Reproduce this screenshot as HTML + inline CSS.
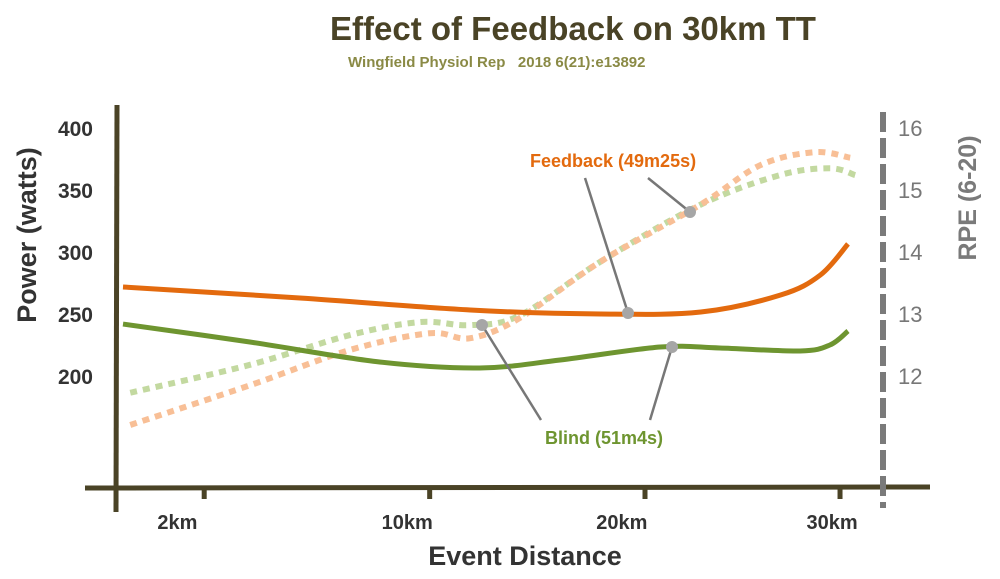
<!DOCTYPE html>
<html><head><meta charset="utf-8"><style>
body{margin:0;background:#fff;width:1000px;height:574px;overflow:hidden;font-family:"Liberation Sans",sans-serif}
svg text{font-family:"Liberation Sans",sans-serif}
</style></head><body>
<svg id="chart" width="1000" height="574" viewBox="0 0 1000 574">
<text x="573" y="40" text-anchor="middle" font-size="33" font-weight="bold" fill="#4a4326">Effect of Feedback on 30km TT</text>
<text x="348" y="67" font-size="15" font-weight="bold" fill="#8a8a45" xml:space="preserve">Wingfield Physiol Rep   2018 6(21):e13892</text>
<g id="axes"></g>
<g id="series"></g>
<g id="annot"></g>
<text transform="translate(36,235) rotate(-90)" text-anchor="middle" font-size="27" font-weight="bold" fill="#333">Power (watts)</text>
<text transform="translate(976,198) rotate(-90)" text-anchor="middle" font-size="25" font-weight="bold" fill="#7a7a7a">RPE (6-20)</text>
<text x="525" y="565" text-anchor="middle" font-size="27" font-weight="bold" fill="#333">Event Distance</text>
</svg>
<script>
const powerTicks=[200,250,300,350,400];
const rpeTicks=[12,13,14,15,16];
const xTickLabels=["2km","10km","20km","30km"];
const xTickLabelPos=[7.5,39.2,68.8,97.8];
const xTickMarks=[11.2,42.3,72.0,98.9];
const fbT=[0,24.4,47.9,65.9,79.7,90.7,96.2,100];
const fbPower=[271.8,262.9,253.2,250,251.6,265.3,281.5,306.5];
const blT=[0,17.5,35.4,49.2,60.3,74.1,82.3,93.4,97.5,100];
const blPower=[241.9,227.4,211.3,206.5,212.9,223.4,222.6,220.2,225,236.3];
const rpeT=[1,17.5,31.3,41,47.9,54.8,65.8,79.6,90.6,97.5,101];
const blRpe=[11.73,12.18,12.66,12.87,12.82,12.98,13.84,14.76,15.24,15.35,15.24];
const rpeT2=[1,17.5,31.3,42.3,47.9,54.8,65.8,79.6,87.9,95.4,100.3];
const fbRpe=[11.21,11.85,12.42,12.69,12.61,12.94,13.84,14.76,15.40,15.61,15.52];

const X=t=>123+t*7.25;
const YP=w=>376-(w-200)*1.24;
const YR=r=>376-(r-12)*62;
const NS="http://www.w3.org/2000/svg";
function mk(tag,attrs,parent,txt){const e=document.createElementNS(NS,tag);for(const k in attrs)e.setAttribute(k,attrs[k]);if(txt!==undefined)e.textContent=txt;parent.appendChild(e);return e;}
function smooth(pts){let d="M"+pts[0][0]+","+pts[0][1];for(let i=0;i<pts.length-1;i++){const p0=pts[i-1]||pts[i],p1=pts[i],p2=pts[i+1],p3=pts[i+2]||p2;
const c1=[p1[0]+(p2[0]-p0[0])/6,p1[1]+(p2[1]-p0[1])/6],c2=[p2[0]-(p3[0]-p1[0])/6,p2[1]-(p3[1]-p1[1])/6];
d+=" C"+c1[0]+","+c1[1]+" "+c2[0]+","+c2[1]+" "+p2[0]+","+p2[1];}return d;}
const axes=document.getElementById('axes');
const ax=mk('line',{x1:117,y1:105,x2:116,y2:512,stroke:'#4a4326','stroke-width':5},axes);


const bx=mk('line',{x1:85,y1:488,x2:930,y2:487,stroke:'#4a4326','stroke-width':5},axes);


const rx=mk('line',{x1:883,y1:112,x2:883,y2:508,stroke:'#7a7a7a','stroke-width':6,'stroke-dasharray':'20,6'},axes);


powerTicks.forEach(v=>{const t=mk('text',{x:93,y:YP(v)+8,'text-anchor':'end','font-size':21,'font-weight':'bold',fill:'#333'},axes,String(v));

});
rpeTicks.forEach(v=>{const t=mk('text',{x:898,y:YR(v)+8,'font-size':22,fill:'#777'},axes,String(v));

});
xTickMarks.forEach(v=>{const t=mk('line',{x1:X(v),y1:487,x2:X(v),y2:499,stroke:'#4a4326','stroke-width':5},axes);

});
xTickLabels.forEach((s,i)=>{const t=mk('text',{x:X(xTickLabelPos[i]),y:529,'text-anchor':'middle','font-size':20,'font-weight':'bold',fill:'#333'},axes,s);

});
const ser=document.getElementById('series');
function line(ts,vs,yf,col,dash,name){const p=mk('path',{d:smooth(ts.map((t,i)=>[X(t),yf(vs[i])])),fill:'none',stroke:col,'stroke-width':dash?6:5,'stroke-dasharray':dash||'none'},ser);

}
line(rpeT,blRpe,YR,'#c3d9a0','7,6','blind-rpe-line');
line(rpeT2,fbRpe,YR,'#f8bf96','7,6','feedback-rpe-line');
line(fbT,fbPower,YP,'#e36a0e',null,'feedback-power-line');
line(blT,blPower,YP,'#6e9530',null,'blind-power-line');
const an=document.getElementById('annot');
[[585,178,628,313],[648,178,690,212],[541,420,482,325],[650,420,672,347]].forEach(a=>{
const l=mk('line',{x1:a[0],y1:a[1],x2:a[2],y2:a[3],stroke:'#777','stroke-width':2.5},an);


const c=mk('circle',{cx:a[2],cy:a[3],r:6,fill:'#a6a6a6'},an);

});
const f=mk('text',{x:530,y:167,'font-size':18,'font-weight':'bold',fill:'#e36a0e'},an,'Feedback (49m25s)');


const b=mk('text',{x:545,y:444,'font-size':18,'font-weight':'bold',fill:'#6e9530'},an,'Blind (51m4s)');


</script>
</body></html>
